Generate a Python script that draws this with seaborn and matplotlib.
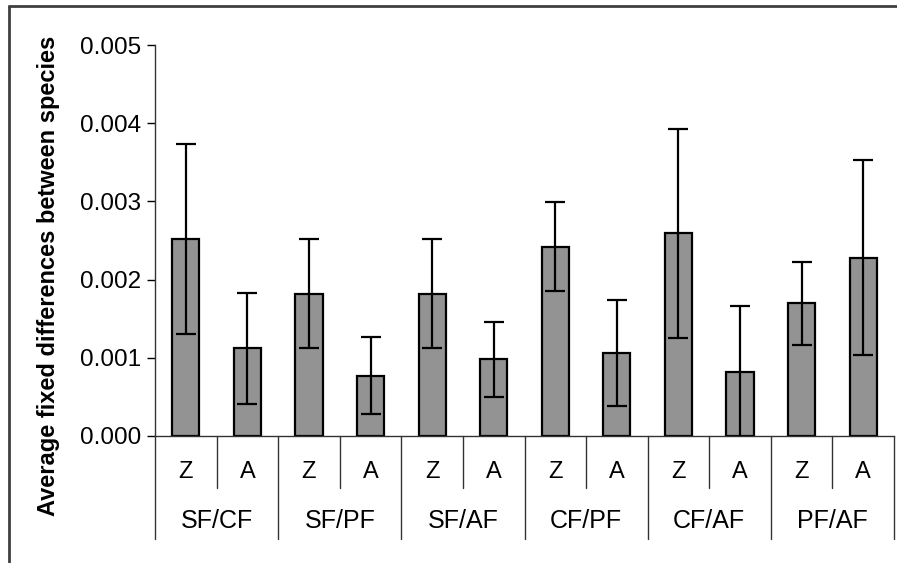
import matplotlib
matplotlib.use("Agg")
import matplotlib.pyplot as plt
import matplotlib.transforms as mtransforms
from matplotlib.lines import Line2D
from matplotlib.ticker import FormatStrFormatter
import seaborn as sns
import pandas as pd

groups = ["SF/CF", "SF/PF", "SF/AF", "CF/PF", "CF/AF", "PF/AF"]
subs = ["Z", "A"]
means = [0.00252, 0.00112, 0.00182, 0.00077, 0.00182, 0.00098,
         0.00242, 0.00106, 0.00259, 0.00082, 0.00170, 0.00228]
errors = [0.00122, 0.00071, 0.00070, 0.00049, 0.00070, 0.00048,
          0.00057, 0.00068, 0.00134, 0.00084, 0.00053, 0.00125]
yticks = [0.000, 0.001, 0.002, 0.003, 0.004, 0.005]

sns.set_theme(style="white")
plt.rcParams['font.family'] = ['Liberation Sans', 'DejaVu Sans']

labels = [f"{g} {s}" for g in groups for s in subs]
df = pd.DataFrame({"label": labels, "value": means})

fig = plt.figure(figsize=(8.97, 5.63), dpi=100)
ax = fig.add_axes([155/897, 1 - 436/563, 739/897, 391/563])

sns.barplot(data=df, x="label", y="value", order=labels, ax=ax,
            color="#939393", saturation=1, width=0.44,
            edgecolor="black", linewidth=1.6, errorbar=None)
for p in ax.patches:
    p.set_facecolor("#939393")

xs = range(len(labels))
ax.errorbar(list(xs), means, yerr=errors, fmt="none", ecolor="black",
            elinewidth=1.6, capsize=7, capthick=1.6, zorder=5)

ax.set_xlim(-0.5, len(labels) - 0.5)
ax.set_ylim(0, 0.005)
ax.set_yticks(yticks)
ax.yaxis.set_major_formatter(FormatStrFormatter("%.3f"))
ax.tick_params(axis="y", which="both", left=True, length=6, width=1,
               color="black", labelsize=17.5, pad=4, labelcolor="black")
ax.set_xticks([])
ax.set_xlabel("")
ax.set_ylabel("Average fixed differences between species", fontsize=17,
              fontweight="bold", color="black")
ax.yaxis.set_label_coords(-0.1286, 0.41)

for s in ["top", "right"]:
    ax.spines[s].set_visible(False)
for s in ["left", "bottom"]:
    ax.spines[s].set_visible(True)
    ax.spines[s].set_color("#333333")
    ax.spines[s].set_linewidth(1.0)

trans = mtransforms.blended_transform_factory(ax.transData, ax.transAxes)
n = len(labels)
for i in range(n + 1):
    x = i - 0.5
    yend = -0.263 if i % 2 == 0 else -0.133
    ax.plot([x, x], [0, yend], transform=trans, color="#333333", lw=1.0,
            clip_on=False)
for i, lab in enumerate(labels):
    ax.text(i, -0.091, subs[i % 2], transform=trans, ha="center",
            va="center", fontsize=17, color="black")
for j, g in enumerate(groups):
    ax.text(2 * j + 0.5, -0.217, g, transform=trans, ha="center",
            va="center", fontsize=18, color="black")

# outer chart frame (top and left edges visible)
fx = 8.5 / 897
fy = 1 - 5.5 / 563
fig.add_artist(Line2D([fx, 1.0], [fy, fy], transform=fig.transFigure,
                      color="#404040", lw=2))
fig.add_artist(Line2D([fx, fx], [0.0, fy], transform=fig.transFigure,
                      color="#404040", lw=2))

fig.savefig("out.png", dpi=100, facecolor="white")
